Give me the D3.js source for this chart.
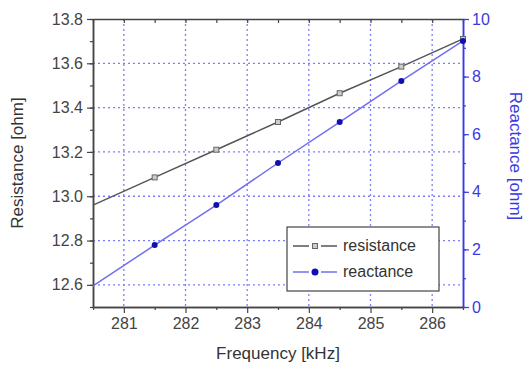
<!DOCTYPE html>
<html lang="en">
<head>
<meta charset="utf-8">
<title>Resistance and reactance vs frequency</title>
<script src="https://d3js.org/d3.v7.min.js"></script>
<style>
  body { margin: 0; background: #fff; }
  #chart1 svg { display: block; font-family: "Liberation Sans", Arial, sans-serif; }
</style>
</head>
<body>
<div id="chart1"></div>
<script>
// data
const freq = [280.5, 281.5, 282.5, 283.5, 284.5, 285.5, 286.5]
const resistance = [12.96, 13.085, 13.21, 13.335, 13.465, 13.585, 13.71]
const reactance = [0.73, 2.15, 3.54, 5.0, 6.42, 7.85, 9.24]
const xTicks = [281, 282, 283, 284, 285, 286]
const leftTicks = [12.6, 12.8, 13.0, 13.2, 13.4, 13.6, 13.8]
const rightTicks = [0, 2, 4, 6, 8, 10]

const W = 526, H = 368
const margin = {top: 19, right: 63, bottom: 61, left: 93}
const width = W - margin.left - margin.right
const height = H - margin.top - margin.bottom

const grey = "#444", blue = "#3a3ae0", lineBlue = "#6f6ff0", gridBlue = "#7d7dff"

const svg = d3.select("#chart1").append("svg")
    .attr("width", W).attr("height", H)
  .append("g")
    .attr("transform", "translate(" + margin.left + "," + margin.top + ")")

const x = d3.scaleLinear().domain([280.5, 286.5]).range([0, width])
const yL = d3.scaleLinear().domain([12.5, 13.8]).range([height, 0])
const yR = d3.scaleLinear().domain([0, 10]).range([height, 0])

// grid
svg.append("g").selectAll("line").data(xTicks).join("line")
    .attr("x1", d => x(d)).attr("x2", d => x(d))
    .attr("y1", 0).attr("y2", height)
    .attr("stroke", gridBlue).attr("stroke-width", 1.3).attr("stroke-dasharray", "2,3")
svg.append("g").selectAll("line").data(leftTicks.slice(0, -1)).join("line")
    .attr("y1", d => yL(d)).attr("y2", d => yL(d))
    .attr("x1", 0).attr("x2", width)
    .attr("stroke", gridBlue).attr("stroke-width", 1.3).attr("stroke-dasharray", "2,3")

// axes
function styleAxis(g, color) {
    g.select(".domain").attr("stroke", color).attr("stroke-width", 1.5)
    g.selectAll(".tick line").attr("stroke", color).attr("stroke-width", 1.2)
    g.selectAll(".tick text").attr("fill", color).style("font-size", "16px")
}

const xMinor = d3.range(280.5, 286.51, 0.5).filter(d => !xTicks.includes(d))
svg.append("g").attr("transform", "translate(0," + height + ")")
    .call(d3.axisBottom(x).tickValues(xMinor).tickSize(3).tickFormat("").tickSizeOuter(0))
    .call(g => styleAxis(g, grey))
svg.append("g").attr("transform", "translate(0," + height + ")")
    .call(d3.axisBottom(x).tickValues(xTicks).tickSize(6).tickPadding(5).tickFormat(d3.format("d")).tickSizeOuter(0))
    .call(g => styleAxis(g, grey))
svg.append("g")
    .call(d3.axisBottom(x).tickValues(d3.range(280.5, 286.51, 0.5)).tickSize(4).tickFormat("").tickSizeOuter(0))
    .call(g => styleAxis(g, grey))

svg.append("g")
    .call(d3.axisLeft(yL).tickValues(d3.range(12.5, 13.81, 0.1)).tickSize(3).tickFormat("").tickSizeOuter(0))
    .call(g => styleAxis(g, grey))
svg.append("g")
    .call(d3.axisLeft(yL).tickValues(leftTicks).tickSize(6).tickPadding(4).tickFormat(d3.format(".1f")).tickSizeOuter(0))
    .call(g => styleAxis(g, grey))

svg.append("g").attr("transform", "translate(" + width + ",0)")
    .call(d3.axisRight(yR).tickValues(d3.range(0, 10.1, 1)).tickSize(3).tickFormat("").tickSizeOuter(0))
    .call(g => styleAxis(g, blue))
svg.append("g").attr("transform", "translate(" + width + ",0)")
    .call(d3.axisRight(yR).tickValues(rightTicks).tickSize(6).tickPadding(3).tickSizeOuter(0))
    .call(g => styleAxis(g, blue))

// lines
const pts = freq.map((f, i) => ({f: f, r: resistance[i], x: reactance[i]}))
svg.append("path").datum(pts)
    .attr("fill", "none").attr("stroke", "#555").attr("stroke-width", 1.5)
    .attr("d", d3.line().x(d => x(d.f)).y(d => yL(d.r)))
svg.append("path").datum(pts)
    .attr("fill", "none").attr("stroke", lineBlue).attr("stroke-width", 1.5)
    .attr("d", d3.line().x(d => x(d.f)).y(d => yR(d.x)))

const marked = pts.slice(1)
svg.append("g").selectAll("rect").data(marked).join("rect")
    .attr("x", d => x(d.f) - 2.5).attr("y", d => yL(d.r) - 2.5)
    .attr("width", 5).attr("height", 5)
    .attr("fill", "#ccc").attr("stroke", "#666").attr("stroke-width", 1)
svg.append("g").selectAll("circle").data(marked).join("circle")
    .attr("cx", d => x(d.f)).attr("cy", d => yR(d.x)).attr("r", 3)
    .attr("fill", "#1010b0")

// axis titles
svg.append("text")
    .attr("x", width / 2).attr("y", height + 52)
    .attr("text-anchor", "middle").attr("fill", "#333").style("font-size", "17px")
    .text("Frequency [kHz]")
svg.append("text")
    .attr("transform", "translate(-70," + (height / 2) + ") rotate(-90)")
    .attr("text-anchor", "middle").attr("fill", "#333").style("font-size", "17px")
    .text("Resistance [ohm]")
svg.append("text")
    .attr("transform", "translate(" + (width + 47) + "," + (height / 2 - 7) + ") rotate(90)")
    .attr("text-anchor", "middle").attr("fill", blue).style("font-size", "17px")
    .text("Reactance [ohm]")

// legend
const leg = svg.append("g").attr("transform", "translate(" + (287 - margin.left) + "," + (227 - margin.top) + ")")
leg.append("rect").attr("width", 152).attr("height", 64)
    .attr("fill", "#fff").attr("stroke", "#444").attr("stroke-width", 1.2)
const legItems = [
    {name: "resistance", color: "#555", y: 19},
    {name: "reactance", color: lineBlue, y: 45}
]
legItems.forEach((it, i) => {
    leg.append("line").attr("x1", 6).attr("x2", 22).attr("y1", it.y).attr("y2", it.y)
        .attr("stroke", it.color).attr("stroke-width", 1.5)
    leg.append("line").attr("x1", 34).attr("x2", 50).attr("y1", it.y).attr("y2", it.y)
        .attr("stroke", it.color).attr("stroke-width", 1.5)
    if (i === 0) {
        leg.append("rect").attr("x", 25.5).attr("y", it.y - 2.5).attr("width", 5).attr("height", 5)
            .attr("fill", "#ccc").attr("stroke", "#666")
    } else {
        leg.append("circle").attr("cx", 28).attr("cy", it.y).attr("r", 3.5).attr("fill", "#1010b0")
    }
    leg.append("text").attr("x", 56).attr("y", it.y + 5)
        .attr("fill", "#333").style("font-size", "16px").text(it.name)
})
</script>
</body>
</html>
